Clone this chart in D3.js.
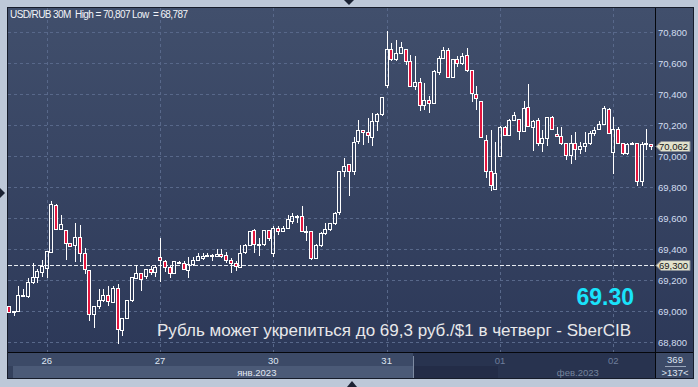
<!DOCTYPE html>
<html>
<head>
<meta charset="utf-8">
<script src="https://cdn.jsdelivr.net/npm/d3@7"></script>
<style>
  body { margin: 0; background: #bdc8d8; }
  svg { display: block; font-family: "Liberation Sans", Arial, sans-serif; }
</style>
</head>
<body>
<div id="chart"></div>
<script>
// ---- data (USD/RUB, 30 min bars) ----
var open = [69.030,68.995,68.998,69.100,69.100,69.185,69.218,69.252,69.275,69.380,
  69.687,69.530,69.524,69.440,69.423,69.477,69.375,69.262,68.980,69.035,
  69.073,69.105,69.060,69.148,68.880,68.958,69.070,69.213,69.245,69.224,
  69.268,69.250,69.350,69.325,69.285,69.245,69.315,69.308,69.263,69.305,
  69.332,69.340,69.358,69.358,69.355,69.370,69.363,69.330,69.310,69.284,
  69.380,69.428,69.520,69.430,69.430,69.520,69.374,69.535,69.518,69.535,
  69.580,69.610,69.610,69.514,69.518,69.342,69.428,69.500,69.531,69.568,
  69.639,69.905,69.948,69.901,70.095,70.168,70.155,70.125,70.228,70.270,
  70.456,70.692,70.626,70.665,70.692,70.615,70.450,70.477,70.331,70.360,
  70.342,70.540,70.630,70.684,70.512,70.623,70.600,70.650,70.555,70.400,
  70.355,70.103,69.900,69.790,69.998,70.187,70.133,70.234,70.238,70.159,
  70.316,70.190,70.234,70.084,70.116,70.252,70.144,70.127,70.084,70.009,
  70.084,70.045,70.066,70.084,70.148,70.174,70.206,70.303,70.024,70.174,
  70.084,70.019,70.078,70.084,69.837,70.080,70.080];
var high = [69.035,69.000,69.164,69.140,69.215,69.310,69.270,69.330,69.390,69.710,
  69.690,69.622,69.524,69.440,69.570,69.553,69.405,69.262,69.035,69.142,
  69.142,69.164,69.164,69.175,68.958,69.070,69.220,69.300,69.245,69.272,
  69.290,69.294,69.473,69.330,69.290,69.320,69.320,69.320,69.350,69.347,
  69.375,69.375,69.375,69.365,69.398,69.398,69.380,69.342,69.320,69.428,
  69.432,69.518,69.530,69.470,69.525,69.525,69.546,69.546,69.546,69.620,
  69.632,69.622,69.675,69.546,69.518,69.432,69.510,69.568,69.568,69.640,
  69.905,69.987,69.948,70.120,70.232,70.168,70.245,70.280,70.280,70.383,
  70.807,70.730,70.750,70.735,70.692,70.654,70.643,70.500,70.470,70.385,
  70.557,70.645,70.705,70.695,70.623,70.645,70.662,70.694,70.555,70.450,
  70.355,70.135,70.170,70.090,70.196,70.196,70.238,70.282,70.238,70.353,
  70.467,70.234,70.245,70.170,70.252,70.260,70.190,70.190,70.084,70.138,
  70.152,70.088,70.152,70.159,70.190,70.224,70.320,70.310,70.250,70.190,
  70.084,70.084,70.088,70.084,70.088,70.174,70.080];
var low = [68.990,68.965,68.995,69.090,69.085,69.175,69.180,69.218,69.215,69.380,
  69.525,69.530,69.330,69.410,69.315,69.315,69.240,68.937,68.893,69.013,
  69.055,69.034,69.055,68.787,68.840,68.950,69.055,69.207,69.130,69.207,
  69.233,69.220,69.190,69.250,69.210,69.240,69.310,69.262,69.210,69.293,
  69.326,69.330,69.350,69.320,69.350,69.340,69.310,69.245,69.260,69.284,
  69.368,69.422,69.374,69.353,69.420,69.450,69.346,69.488,69.514,69.530,
  69.560,69.568,69.514,69.454,69.330,69.338,69.415,69.490,69.518,69.558,
  69.620,69.862,69.740,69.880,70.077,70.069,70.084,70.062,70.163,70.256,
  70.439,70.615,70.615,70.658,70.585,70.450,70.428,70.288,70.300,70.277,
  70.342,70.522,70.625,70.507,70.512,70.572,70.587,70.544,70.350,70.300,
  70.120,69.856,69.775,69.785,69.994,70.127,70.127,70.223,70.105,70.159,
  70.191,70.030,70.062,70.024,70.067,70.170,70.122,70.073,69.976,69.951,
  69.976,70.010,70.024,70.073,70.127,70.170,70.202,70.144,69.886,70.080,
  70.009,70.009,70.070,69.809,69.809,70.037,70.037];
var close = [68.995,69.000,69.103,69.105,69.185,69.220,69.255,69.290,69.390,69.690,
  69.531,69.563,69.438,69.420,69.477,69.375,69.268,68.980,69.035,69.073,
  69.105,69.064,69.148,68.882,68.958,69.070,69.218,69.245,69.207,69.268,
  69.250,69.285,69.330,69.283,69.245,69.320,69.318,69.268,69.305,69.332,
  69.358,69.358,69.362,69.360,69.370,69.355,69.331,69.312,69.290,69.374,
  69.428,69.514,69.432,69.432,69.520,69.470,69.535,69.518,69.535,69.593,
  69.610,69.610,69.514,69.518,69.342,69.428,69.505,69.531,69.568,69.632,
  69.905,69.933,69.905,70.090,70.168,70.155,70.133,70.224,70.272,70.383,
  70.692,70.626,70.665,70.700,70.615,70.450,70.477,70.331,70.363,70.342,
  70.550,70.630,70.684,70.512,70.623,70.600,70.645,70.555,70.404,70.372,
  70.125,69.900,69.812,69.890,70.187,70.133,70.234,70.267,70.159,70.310,
  70.191,70.228,70.084,70.116,70.252,70.174,70.130,70.084,70.009,70.084,
  70.045,70.062,70.084,70.148,70.170,70.206,70.310,70.148,70.174,70.084,
  70.019,70.080,70.084,69.837,70.080,70.082,70.062];

var dayLabels = ["26", "27", "30", "31", "01", "02"];
var dayIndex  = [8, 32, 56, 80, 104, 128];
var monthLabels = ["янв.2023", "фев.2023"];
var monthIndex  = [52.5, 120.5];
var yTicks = [68.8, 69.0, 69.2, 69.4, 69.6, 69.8, 70.0, 70.2, 70.4, 70.6, 70.8];
var lastPrice = 70.062;
var targetLevel = 69.3;
var titleText = "USD/RUB 30M  High = 70,807 Low  = 68,787";
var headline = "Рубль может укрепиться до 69,3 руб./$1 в четверг - SberCIB";
var targetText = "69.30";
var barsTotal = "369", barsShown = ">137<";

// ---- layout ----
var W = 698, H = 387;
var plot = { left: 8, top: 8, right: 655, bottom: 352 };
var axisBottom = 378, axisRight = 693;
var febStart = 413;

var svg = d3.select("#chart").append("svg")
  .attr("width", W).attr("height", H);

var defs = svg.append("defs");
var grad = defs.append("linearGradient").attr("id", "bg")
  .attr("x1", 0).attr("y1", 0).attr("x2", 0).attr("y2", 1);
grad.append("stop").attr("offset", "0%").attr("stop-color", "#414f6c");
grad.append("stop").attr("offset", "100%").attr("stop-color", "#2b3757");

// outer frame + panel
svg.append("rect").attr("width", W).attr("height", H).attr("fill", "#bdc8d8");
svg.append("rect")
  .attr("x", plot.left - 0.5).attr("y", plot.top - 0.5)
  .attr("width", axisRight - plot.left + 1).attr("height", axisBottom - plot.top + 1)
  .attr("fill", "url(#bg)").attr("stroke", "#161c2a");

// scroll markers
svg.append("path").attr("d", "M344,0 L354,0 L349,5 Z").attr("fill", "#1b2233");
svg.append("path").attr("d", "M0,188 L0,198 L5,193 Z").attr("fill", "#1b2233");
svg.append("path").attr("d", "M347,387 L357,387 L352,381 Z").attr("fill", "#1b2233");

// scales
var x = d3.scaleLinear().domain([0, open.length - 1]).range([9, 651]);
var y = d3.scaleLinear().domain([68.8, 70.8]).range([342, 32]);

// grid
var grid = svg.append("g").attr("stroke", "#58688a").attr("stroke-dasharray", "3,3");
grid.selectAll(".hg").data(yTicks).enter().append("line")
  .attr("x1", plot.left).attr("x2", plot.right)
  .attr("y1", d => Math.round(y(d)) + 0.5).attr("y2", d => Math.round(y(d)) + 0.5);
grid.selectAll(".vg").data(dayIndex).enter().append("line")
  .attr("y1", plot.top).attr("y2", plot.bottom)
  .attr("x1", d => Math.round(x(d)) + 0.5).attr("x2", d => Math.round(x(d)) + 0.5);

// target level line
svg.append("line")
  .attr("x1", plot.left).attr("x2", plot.right)
  .attr("y1", Math.round(y(targetLevel)) + 0.5).attr("y2", Math.round(y(targetLevel)) + 0.5)
  .attr("stroke", "#e8ecf2").attr("stroke-dasharray", "4,2");

// candles
var data = d3.range(open.length).map(i => ({ i: i, o: open[i], h: high[i], l: low[i], c: close[i] }));
svg.selectAll(".candle").data(data).enter().append("g").attr("class", "candle")
  .each(function(d) {
    var g = d3.select(this);
    var cx = Math.round(x(d.i));
    var top = Math.round(y(Math.max(d.o, d.c)));
    var bot = Math.round(y(Math.min(d.o, d.c)));
    if (bot - top < 1) bot = top + 1;
    var hi = Math.round(y(d.h)), lo = Math.round(y(d.l));
    if (hi < top) g.append("line").attr("x1", cx + 0.5).attr("x2", cx + 0.5)
      .attr("y1", hi).attr("y2", top).attr("stroke", "#fff");
    if (lo > bot) g.append("line").attr("x1", cx + 0.5).attr("x2", cx + 0.5)
      .attr("y1", bot).attr("y2", lo).attr("stroke", "#fff");
    g.append("rect")
      .attr("x", cx - 1.5).attr("y", top + 0.5)
      .attr("width", 3).attr("height", bot - top)
      .attr("fill", d.c < d.o ? "#e3163f" : "none")
      .attr("stroke", "#fff");
  });

// title
svg.append("text").attr("x", 10).attr("y", 18)
  .attr("fill", "#f2f4f8").style("font-size", "10px")
  .attr("textLength", 178).attr("lengthAdjust", "spacing")
  .attr("xml:space", "preserve").text(titleText);

// headline and target
svg.append("text").attr("x", 157).attr("y", 336)
  .attr("fill", "#e8e8ea").style("font-size", "17px")
  .attr("textLength", 474).attr("lengthAdjust", "spacing")
  .text(headline);
svg.append("text").attr("x", 634).attr("y", 305).attr("text-anchor", "end")
  .attr("fill", "#19e3fb").style("font-size", "23px").style("font-weight", "bold")
  .text(targetText);

// bottom axis panel
svg.append("rect").attr("x", plot.left).attr("y", plot.bottom + 1)
  .attr("width", febStart - plot.left).attr("height", 13).attr("fill", "#3c4a67");
svg.append("rect").attr("x", plot.left).attr("y", plot.bottom + 14)
  .attr("width", 5).attr("height", 12).attr("fill", "#34415d");
svg.append("rect").attr("x", plot.left + 5).attr("y", plot.bottom + 14)
  .attr("width", febStart - plot.left - 5).attr("height", 12).attr("fill", "#4b5a77");
svg.append("rect").attr("x", febStart).attr("y", plot.bottom + 1)
  .attr("width", plot.right - febStart).attr("height", 25).attr("fill", "#28334f");
svg.append("rect").attr("x", febStart).attr("y", plot.bottom + 14)
  .attr("width", 85).attr("height", 12).attr("fill", "#232c47");
svg.append("line").attr("x1", febStart + 0.5).attr("x2", febStart + 0.5)
  .attr("y1", plot.bottom + 4).attr("y2", axisBottom).attr("stroke", "#7e8ba2");
svg.append("rect").attr("x", plot.right + 1).attr("y", plot.bottom + 1)
  .attr("width", axisRight - plot.right - 1).attr("height", 25).attr("fill", "#3c4a67");

// separators
svg.append("line").attr("x1", plot.right + 0.5).attr("x2", plot.right + 0.5)
  .attr("y1", plot.top).attr("y2", axisBottom).attr("stroke", "#05070c");
svg.append("line").attr("x1", plot.left).attr("x2", axisRight)
  .attr("y1", plot.bottom + 0.5).attr("y2", plot.bottom + 0.5).attr("stroke", "#05070c");

// day labels
svg.selectAll(".day").data(dayLabels).enter().append("text")
  .attr("x", (d, i) => x(dayIndex[i])).attr("y", 364)
  .attr("text-anchor", "middle").style("font-size", "9.5px")
  .attr("fill", (d, i) => x(dayIndex[i]) < febStart ? "#dfe6f2" : "#6e7e9c")
  .text(d => d);
svg.selectAll(".month").data(monthLabels).enter().append("text")
  .attr("x", (d, i) => x(monthIndex[i])).attr("y", 376)
  .attr("text-anchor", "middle").style("font-size", "9.5px")
  .attr("fill", (d, i) => x(monthIndex[i]) < febStart ? "#e3e8f2" : "#75839c")
  .text(d => d);

// right axis labels
function fmt(v) { return v.toFixed(3).replace(".", ","); }
svg.selectAll(".ylab").data(yTicks).enter().append("text")
  .attr("x", 658).attr("y", d => y(d) + 3.5)
  .style("font-size", "9.5px").attr("fill", "#d2ddf0")
  .text(d => fmt(d));

// price markers
function marker(v) {
  var yy = Math.round(y(v)) + 0.5;
  svg.append("path")
    .attr("d", `M656,${yy} L661,${yy - 5} L690,${yy - 5} L690,${yy + 5} L661,${yy + 5} Z`)
    .attr("fill", "#e2e2cc").attr("stroke", "#8a8f96");
  svg.append("text").attr("x", 659).attr("y", yy + 3.5)
    .style("font-size", "9.5px").attr("fill", "#161616").text(fmt(v));
}
marker(lastPrice);
marker(targetLevel);

// bar counters
svg.append("text").attr("x", 675).attr("y", 363).attr("text-anchor", "middle")
  .style("font-size", "9.5px").attr("fill", "#dfe6f2").text(barsTotal);
svg.append("line").attr("x1", 665).attr("x2", 686).attr("y1", 366.5).attr("y2", 366.5)
  .attr("stroke", "#9aa6ba");
svg.append("text").attr("x", 675).attr("y", 376).attr("text-anchor", "middle")
  .style("font-size", "9.5px").attr("fill", "#dfe6f2").text(barsShown);
</script>
</body>
</html>
